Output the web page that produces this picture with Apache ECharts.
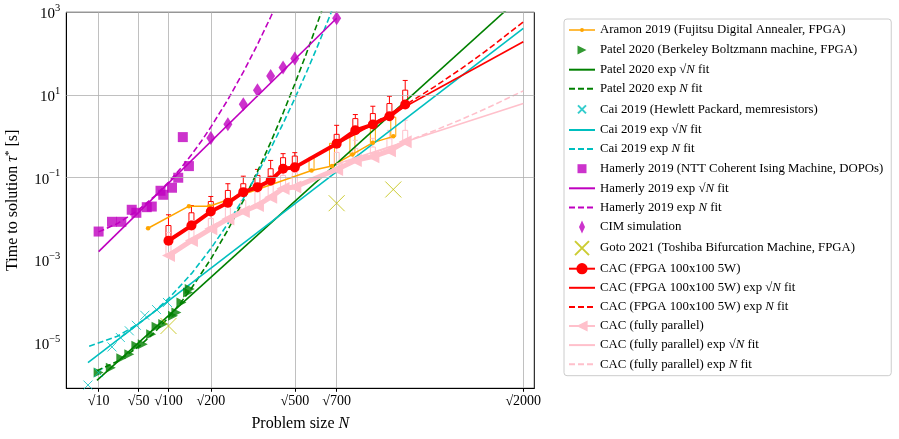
<!DOCTYPE html>
<html><head><meta charset="utf-8">
<script src="https://cdn.jsdelivr.net/npm/echarts@6/dist/echarts.min.js"></script>
<style>html,body{margin:0;padding:0;background:#fff}#c{width:899px;height:439px}</style>
</head><body><div id="c"></div>
<script>
// ---------- axis ticks ----------
const xTickN = [10, 50, 100, 200, 500, 700, 2000];
const yTickT = [1e-5, 1e-3, 1e-1, 10, 1000];

// ---------- Aramon 2019 ----------
const aramonN = [64, 144, 196, 576, 676, 784, 900, 1024];
const aramonT = [6.0e-3, 0.0205, 0.0205, 0.150, 0.193, 0.367, 0.705, 1.0];
const aramonBoxN = [576, 676, 784, 900, 1024];
const aramonBoxQ1 = [0.150, 0.193, 0.367, 0.705, 1.0];
const aramonBoxQ3 = [0.31, 0.679, 1.06, 1.66, 2.9];

// ---------- Patel 2020 ----------
const patelN = [10, 19, 29, 38, 47, 56, 69, 78, 90, 109, 116, 127, 142, 146];
const patelT = [1.94e-6, 2.56e-6, 4.33e-6, 5.41e-6, 8.61e-6, 9.46e-6, 1.65e-5, 2.48e-5, 2.89e-5, 4.59e-5, 5.52e-5, 9.64e-5, 1.69e-4, 2.04e-4];
const patelSqrtFitN = [9, 2000];
const patelSqrtFitT = [1.26e-6, 2673];
const patelNFitN = [9, 25, 50, 75, 100, 125, 150, 200, 250, 300, 350, 400, 450, 500, 550, 600, 650];
const patelNFitT = [2.16e-6, 3.64e-6, 8.2e-6, 1.85e-5, 4.17e-5, 9.4e-5, 2.12e-4, 1.08e-3, 5.47e-3, 0.0278, 0.141, 0.718, 3.65, 18.5, 94.2, 479, 2432];

// ---------- Cai 2019 ----------
const caiN = [4.5, 10, 20, 28, 38, 47, 59, 78, 98];
const caiT = [9.7e-7, 1.94e-6, 8.1e-6, 1.37e-5, 1.99e-5, 2.7e-5, 4.72e-5, 6.49e-5, 9.64e-5];
const caiSqrtFitN = [4.5, 2000];
const caiSqrtFitT = [3.4e-6, 409];
const caiNFitN = [5, 25, 50, 75, 100, 150, 200, 250, 300, 350, 400, 450, 500, 550, 600, 650, 700];
const caiNFitT = [8.4e-6, 1.47e-5, 2.95e-5, 5.92e-5, 1.19e-4, 4.79e-4, 1.93e-3, 7.76e-3, 0.0313, 0.126, 0.507, 2.04, 8.22, 33.1, 133, 537, 2163];

// ---------- Hamerly 2019 ----------
const hamerlyN = [10, 20, 29, 41, 47, 62, 70, 85, 90, 107, 120, 130, 144];
const hamerlyT = [5.0e-3, 8.6e-3, 8.6e-3, 0.0168, 0.0142, 0.0194, 0.0201, 0.0484, 0.0387, 0.0573, 0.1, 0.96, 0.191];
const hamerlySqrtFitN = [10, 700];
const hamerlySqrtFitT = [1.63e-3, 716];
const hamerlyNFitN = [10, 25, 50, 75, 100, 125, 150, 175, 200, 250, 300, 350, 400, 420];
const hamerlyNFitT = [4.91e-3, 7.78e-3, 0.0167, 0.0361, 0.0776, 0.167, 0.36, 0.774, 1.67, 7.73, 35.8, 166, 769, 1419];

// ---------- CIM simulation ----------
const cimN = [200, 250, 300, 350, 400, 450, 500, 700];
const cimT = [0.912, 1.96, 5.98, 13.1, 29.0, 46.4, 76.7, 716];

// ---------- Goto 2021 ----------
const gotoN = [100, 700, 1024];
const gotoT = [2.6e-5, 0.0242, 0.052];

// ---------- CAC (FPGA) ----------
const cacN = [100, 150, 200, 250, 300, 350, 400, 450, 500, 700, 800, 900, 1000, 1100];
const cacT = [3.0e-3, 6.98e-3, 0.0152, 0.0248, 0.0448, 0.0592, 0.086, 0.165, 0.178, 0.667, 1.40, 1.93, 3.06, 5.9];
const cacQ1 = [3.32e-3, 6.98e-3, 0.0134, 0.0213, 0.0372, 0.054, 0.0782, 0.175, 0.181, 0.667, 1.69, 2.04, 3.24, 6.22];
const cacQ3 = [6.98e-3, 0.0142, 0.0266, 0.0492, 0.0716, 0.114, 0.165, 0.305, 0.334, 1.12, 2.69, 3.56, 6.22, 13.1];
const cacTop = [0.0127, 0.0213, 0.0352, 0.0716, 0.109, 0.159, 0.262, 0.382, 0.404, 1.85, 3.37, 5.35, 9.35, 22.5];
const cacSqrtFitN = [700, 2000];
const cacSqrtFitT = [0.646, 194];
const cacNFitN = [700, 900, 1100, 1300, 1500, 1700, 2000];
const cacNFitT = [0.734, 2.05, 5.73, 16.0, 44.7, 125, 582];

// ---------- CAC (fully parallel) ----------
const parN = [100, 150, 200, 250, 300, 350, 400, 450, 500, 700, 800, 900, 1000, 1100];
const parT = [1.31e-3, 3.02e-3, 5.8e-3, 0.0101, 0.0152, 0.0213, 0.0339, 0.0551, 0.0599, 0.159, 0.262, 0.323, 0.447, 0.738];
const parQ3 = [3.02e-3, 5.81e-3, 0.0103, 0.0194, 0.0282, 0.0448, 0.065, 0.114, 0.134, 0.41, 0.513, 0.552, 0.881, 1.4];
const parTop = [4.72e-3, 9.2e-3, 0.0161, 0.0298, 0.044, 0.0689, 0.1, 0.178, 0.21, 0.641, 0.802, 0.897, 1.4, 2.45];
const parSqrtFitN = [700, 2000];
const parSqrtFitT = [0.214, 6.22];
const parNFitN = [700, 900, 1100, 1300, 1500, 1700, 2000];
const parNFitT = [0.209, 0.393, 0.738, 1.39, 2.61, 4.89, 12.6];

// ---------- helpers ----------
const FONT = 'Liberation Serif';
const C = {orange:'#ffa500', g:'#008000', c:'#00bfbf', m:'#bf00bf', y:'#bfbf00', r:'#ff0000', pink:'#ffc0cb'};
const XPATH = 'path://M0,0L10,10M10,0L0,10';
const BOX = 'path://M0,0M26,14';
const pts = (N, T) => N.map((n, i) => [Math.sqrt(n), T[i]]);

function fitLine(name, color, N, T, dashed) {
  return {name, type:'line', data:pts(N, T), symbol:'none', clip:true, z:3,
    lineStyle:{color, width:1.6, type: dashed ? [6, 3] : 'solid'}, itemStyle:{color}};
}
function boxSeries(color, N, q1, q3, top, w) {
  return {type:'custom', silent:true, z:2, clip:true,
    data: N.map((n, i) => [Math.sqrt(n), q1[i], q3[i], top[i]]),
    encode:{x:0, y:[1, 2, 3]},
    renderItem(params, api) {
      const x = api.value(0);
      const p1 = api.coord([x, api.value(1)]);
      const p3 = api.coord([x, api.value(2)]);
      const pt = api.coord([x, api.value(3)]);
      const hw = w / 2;
      const st = {stroke:color, lineWidth:1, fill:null};
      const ch = [{type:'rect', shape:{x:p1[0]-hw, y:p3[1], width:w, height:p1[1]-p3[1]}, style:{stroke:color, lineWidth:1, fill:'rgba(0,0,0,0)'}}];
      if (pt[1] < p3[1] - 0.5) {
        ch.push({type:'line', shape:{x1:p3[0], y1:p3[1], x2:pt[0], y2:pt[1]}, style:st});
        ch.push({type:'line', shape:{x1:pt[0]-hw, y1:pt[1], x2:pt[0]+hw, y2:pt[1]}, style:st});
      }
      return {type:'group', children:ch};
    }};
}

const legendNames = [
  'Aramon 2019 (Fujitsu Digital Annealer, FPGA)',
  'Patel 2020 (Berkeley Boltzmann machine, FPGA)',
  'Patel 2020 exp √N fit',
  'Patel 2020 exp N fit',
  'Cai 2019 (Hewlett Packard, memresistors)',
  'Cai 2019 exp √N fit',
  'Cai 2019 exp N fit',
  'Hamerly 2019 (NTT Coherent Ising Machine, DOPOs)',
  'Hamerly 2019 exp √N fit',
  'Hamerly 2019 exp N fit',
  'CIM simulation',
  'Goto 2021 (Toshiba Bifurcation Machine, FPGA)',
  'CAC (FPGA 100x100 5W)',
  'CAC (FPGA 100x100 5W) exp √N fit',
  'CAC (FPGA 100x100 5W) exp N fit',
  'CAC (fully parallel)',
  'CAC (fully parallel) exp √N fit',
  'CAC (fully parallel) exp N fit'
];
const legendIcons = {
  0: BOX + 'M0,6.25H26V7.75H0ZM11,7A2,2 0 1 1 15,7A2,2 0 1 1 11,7Z',
  1: BOX + 'M8.5,2.5L17.5,7L8.5,11.5Z',
  4: BOX + 'M9,3L17,11M17,3L9,11',
  7: BOX + 'M8.5,2.5H17.5V11.5H8.5Z',
  10: BOX + 'M13,0.5L16,7L13,13.5L10,7Z',
  11: BOX + 'M5.5,-0.5L20.5,14.5M20.5,-0.5L5.5,14.5'
};
const fitIdx = [2, 3, 5, 6, 8, 9, 13, 14, 16, 17];
const legendData = legendNames.map((name, i) => {
  if (i === 0) return {name, icon: legendIcons[i], itemStyle:{color:C.orange, borderWidth:0}};
  if (legendIcons[i]) return {name, icon: legendIcons[i]};
  if (fitIdx.includes(i)) return {name, itemStyle:{opacity:0}};
  return {name};
});

const series = [
  {type:'line', silent:true, z:1, data:[[Math.sqrt(xTickN[0]), yTickT[0]]], symbol:'none', lineStyle:{width:0, opacity:0},
   markLine:{silent:true, symbol:'none', label:{show:false}, animation:false,
     lineStyle:{color:'#b0b0b0', width:0.8, type:'solid'},
     data: yTickT.map(v => ({yAxis:v}))}},
  boxSeries(C.orange, aramonBoxN, aramonBoxQ1, aramonBoxQ3, aramonBoxQ3, 5),
  {name:legendNames[0], type:'line', data:pts(aramonN, aramonT), symbol:'circle', symbolSize:4.5, z:3,
   lineStyle:{color:C.orange, width:1.5}, itemStyle:{color:C.orange}},
  {name:legendNames[1], type:'scatter', data:pts(patelN, patelT), symbol:'triangle', symbolRotate:-90, symbolSize:10, z:3,
   itemStyle:{color:C.g}},
  fitLine(legendNames[2], C.g, patelSqrtFitN, patelSqrtFitT, false),
  fitLine(legendNames[3], C.g, patelNFitN, patelNFitT, true),
  {name:legendNames[4], type:'scatter', data:pts(caiN, caiT), symbol:XPATH, symbolSize:9, z:3,
   itemStyle:{color:'rgba(0,0,0,0)', borderColor:C.c, borderWidth:1}},
  fitLine(legendNames[5], C.c, caiSqrtFitN, caiSqrtFitT, false),
  fitLine(legendNames[6], C.c, caiNFitN, caiNFitT, true),
  {name:legendNames[7], type:'scatter', data:pts(hamerlyN, hamerlyT), symbol:'rect', symbolSize:10, z:3,
   itemStyle:{color:C.m}},
  fitLine(legendNames[8], C.m, hamerlySqrtFitN, hamerlySqrtFitT, false),
  fitLine(legendNames[9], C.m, hamerlyNFitN, hamerlyNFitT, true),
  {name:legendNames[10], type:'scatter', data:pts(cimN, cimT), symbol:'diamond', symbolSize:[9, 14], z:3,
   itemStyle:{color:C.m}},
  {name:legendNames[11], type:'scatter', data:pts(gotoN, gotoT), symbol:XPATH, symbolSize:16, z:3,
   itemStyle:{color:'rgba(0,0,0,0)', borderColor:C.y, borderWidth:1}},
  boxSeries(C.r, cacN, cacQ1, cacQ3, cacTop, 5),
  {name:legendNames[12], type:'line', data:pts(cacN, cacT), symbol:'circle', symbolSize:10, z:4,
   lineStyle:{color:C.r, width:4}, itemStyle:{color:C.r}},
  fitLine(legendNames[13], C.r, cacSqrtFitN, cacSqrtFitT, false),
  fitLine(legendNames[14], C.r, cacNFitN, cacNFitT, true),
  boxSeries(C.pink, parN, parT, parQ3, parTop, 5),
  {name:legendNames[15], type:'line', data:pts(parN, parT), symbol:'triangle', symbolRotate:90, symbolSize:13, z:4,
   lineStyle:{color:C.pink, width:5}, itemStyle:{color:C.pink}},
  fitLine(legendNames[16], C.pink, parSqrtFitN, parSqrtFitT, false),
  fitLine(legendNames[17], C.pink, parNFitN, parNFitT, true)
];

const chart = echarts.init(document.getElementById('c'), null, {renderer:'canvas'});
chart.setOption({
  animation:false,
  backgroundColor:'#fff',
  textStyle:{fontFamily:FONT},
  grid:{left:66.3, right:364.7, top:12.3, bottom:50.7, containLabel:false, outerBoundsMode:'none',
        show:true, borderColor:'#000', borderWidth:1, backgroundColor:'rgba(0,0,0,0)'},
  xAxis:{type:'value', min:0, max:45.8,
    axisLine:{show:true, lineStyle:{color:'#000', width:1}},
    axisTick:{show:true, length:3.5, lineStyle:{color:'#000'}, customValues: xTickN.map(n => Math.sqrt(n))},
    splitLine:{show:true, lineStyle:{color:'#b0b0b0', width:0.8}},
    axisLabel:{customValues: xTickN.map(n => Math.sqrt(n)), margin:6, color:'#000', fontFamily:FONT, fontSize:14,
      formatter: v => { let best = xTickN[0]; xTickN.forEach(n => { if (Math.abs(Math.sqrt(n)-v) < Math.abs(Math.sqrt(best)-v)) best = n; }); return '√' + best; }},
    name:'Problem size {i|N}', nameLocation:'middle', nameGap:27,
    nameTextStyle:{color:'#000', fontFamily:FONT, fontSize:16, rich:{i:{fontStyle:'italic', fontFamily:FONT, fontSize:16, color:'#000'}}}
  },
  yAxis:{type:'log', logBase:10, min:8.1e-7, max:1000, splitNumber:9,
    axisLine:{show:true, lineStyle:{color:'#000', width:1}},
    axisTick:{show:false},
    splitLine:{show:false},
    axisLabel:{margin:6, color:'#000', fontFamily:FONT,
      formatter: v => { const e = Math.log10(v); const r = Math.round(e);
        if (Math.abs(e - r) > 1e-6 || r % 2 === 0) return '';
        return '{b|10}{s|' + (r < 0 ? '−' : '') + Math.abs(r) + '}'; },
      rich:{b:{fontSize:15, fontFamily:FONT, color:'#000', verticalAlign:'bottom'},
            s:{fontSize:10.5, fontFamily:FONT, color:'#000', verticalAlign:'bottom', padding:[0,0,8,0]}}},
    name:'Time to solution {i|τ}{s|*} [s]', nameLocation:'middle', nameGap:45, nameRotate:90,
    nameTextStyle:{color:'#000', fontFamily:FONT, fontSize:16,
      rich:{i:{fontStyle:'italic', fontFamily:FONT, fontSize:16, color:'#000'},
            s:{fontFamily:FONT, fontSize:11, color:'#000', padding:[0,0,7,0]}}}
  },
  legend:{data:legendData, orient:'vertical', left:564, top:19, padding:[4, 8, 5, 4],
    itemGap:6.1, itemWidth:26, itemHeight:14, backgroundColor:'#fff',
    borderColor:'#cccccc', borderWidth:1, borderRadius:3, selectedMode:false,
    textStyle:{fontFamily:FONT, fontSize:12.8, color:'#000',
      rich:{i:{fontStyle:'italic', fontFamily:FONT, fontSize:12.8, color:'#000'}}},
    formatter: n => n.replace('exp √N fit', 'exp √{i|N} fit').replace('exp N fit', 'exp {i|N} fit')
  },
  series
});
</script></body></html>
